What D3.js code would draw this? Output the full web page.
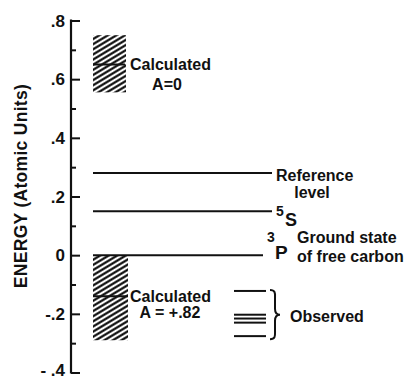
<!DOCTYPE html>
<html>
<head>
<meta charset="utf-8">
<script src="https://cdn.jsdelivr.net/npm/d3@7"></script>
<style>
  body { margin: 0; background: #fff; }
  svg text { font-family: "Liberation Sans", Arial, sans-serif; font-weight: bold; fill: #111; }
</style>
</head>
<body>
<svg id="chart" width="411" height="379"></svg>
<script>
// values (atomic units)
const tickValues = [0.8, 0.6, 0.4, 0.2, 0, -0.2, -0.4];
const tickLabels = [".8", ".6", ".4", ".2", "0", "-.2", "- .4"];
const minorTicks = [0.7, 0.5, 0.3, 0.1, -0.1, -0.3];

const levelNames = ["Reference level", "5S", "3P"];
const levelValues = [0.28, 0.15, 0];

const calcNames = ["A=0", "A = +.82"];
const calcTop = [0.75, 0];
const calcBottom = [0.555, -0.29];
const calcValues = [0.65, -0.14];

const observed = [-0.122, -0.203, -0.216, -0.230, -0.276];

let svg = d3.select("#chart");
let axisX = 71;

let y = d3.scaleLinear()
    .domain([-0.4, 0.8])
    .range([372.5, 20.5]);

// hatch pattern
let defs = svg.append("defs");
let pat = defs.append("pattern")
    .attr("id", "hatch")
    .attr("patternUnits", "userSpaceOnUse")
    .attr("width", 10)
    .attr("height", 4.4)
    .attr("patternTransform", "rotate(-31)");
pat.append("line")
    .attr("x1", 0).attr("x2", 10)
    .attr("y1", 2.2).attr("y2", 2.2)
    .attr("stroke", "#000")
    .attr("stroke-width", 2.1);

// axis: major and minor ticks
svg.append("g")
    .attr("transform", "translate(" + axisX + ",0)")
    .call(d3.axisRight(y).tickValues(tickValues).tickSize(9).tickFormat(""));
svg.append("g")
    .attr("transform", "translate(" + axisX + ",0)")
    .call(d3.axisRight(y).tickValues(minorTicks).tickSize(5).tickFormat(""));
svg.selectAll(".domain").remove();
svg.selectAll(".tick line").attr("stroke", "#111").attr("stroke-width", 2);

svg.append("line")
    .attr("x1", axisX).attr("x2", axisX)
    .attr("y1", y(0.8) - 1).attr("y2", y(-0.4) + 1)
    .attr("stroke", "#111").attr("stroke-width", 2.2);

// tick labels on the left
svg.append("g")
    .selectAll("text")
    .data(tickValues)
    .enter()
    .append("text")
    .attr("x", 65)
    .attr("y", (d) => Math.min(y(d) + 6, 376))
    .attr("text-anchor", "end")
    .style("font-size", "17px")
    .text((d, i) => tickLabels[i]);

// axis title
svg.append("text")
    .attr("transform", "translate(27,186) rotate(-90)")
    .attr("text-anchor", "middle")
    .style("font-size", "17.5px")
    .style("letter-spacing", "0.3px")
    .text("ENERGY  (Atomic Units)");

// calculated hatched boxes
let boxX = [93, 93];
let boxW = [33, 35];
svg.selectAll(".calcbox")
    .data(calcTop)
    .enter()
    .append("rect")
    .attr("class", "calcbox")
    .attr("x", (d, i) => boxX[i])
    .attr("width", (d, i) => boxW[i])
    .attr("y", (d) => y(d))
    .attr("height", (d, i) => y(calcBottom[i]) - y(d))
    .attr("fill", "url(#hatch)");

svg.selectAll(".calcline")
    .data(calcValues)
    .enter()
    .append("line")
    .attr("x1", 93)
    .attr("x2", (d, i) => [125, 128][i])
    .attr("y1", (d) => y(d))
    .attr("y2", (d) => y(d))
    .attr("stroke", "#111")
    .attr("stroke-width", 2);

svg.selectAll(".calclabel")
    .data(calcValues)
    .enter()
    .append("text")
    .attr("x", 130)
    .attr("y", (d) => y(d) + 5.5)
    .style("font-size", "16px")
    .text("Calculated");

svg.append("text")
    .attr("x", 167).attr("y", y(calcValues[0]) + 25)
    .attr("text-anchor", "middle")
    .style("font-size", "16px")
    .text(calcNames[0]);
svg.append("text")
    .attr("x", 170).attr("y", y(calcValues[1]) + 22)
    .attr("text-anchor", "middle")
    .style("font-size", "16px")
    .text(calcNames[1]);

// energy levels
let levelEnd = [272, 272, 263];
svg.selectAll(".level")
    .data(levelValues)
    .enter()
    .append("line")
    .attr("x1", 93)
    .attr("x2", (d, i) => levelEnd[i])
    .attr("y1", (d) => y(d))
    .attr("y2", (d) => y(d))
    .attr("stroke", "#111")
    .attr("stroke-width", 2);

// reference level label
svg.append("text")
    .attr("x", 276).attr("y", y(levelValues[0]) + 8)
    .style("font-size", "16px")
    .text("Reference");
svg.append("text")
    .attr("x", 312).attr("y", y(levelValues[0]) + 25)
    .attr("text-anchor", "middle")
    .style("font-size", "16px")
    .text("level");

// 5S
svg.append("text")
    .attr("x", 276).attr("y", y(levelValues[1]) + 5)
    .style("font-size", "14px")
    .text("5");
svg.append("text")
    .attr("x", 285).attr("y", y(levelValues[1]) + 15)
    .style("font-size", "18px")
    .text("S");

// 3P ground state
svg.append("text")
    .attr("x", 267).attr("y", y(levelValues[2]) - 13)
    .style("font-size", "14px")
    .text("3");
svg.append("text")
    .attr("x", 275).attr("y", y(levelValues[2]) + 4)
    .style("font-size", "19px")
    .text("P");
svg.append("text")
    .attr("x", 297).attr("y", y(levelValues[2]) - 12)
    .style("font-size", "16px")
    .text("Ground state");
svg.append("text")
    .attr("x", 297).attr("y", y(levelValues[2]) + 7)
    .style("font-size", "16px")
    .text("of free carbon");

// observed levels
svg.selectAll(".obs")
    .data(observed)
    .enter()
    .append("line")
    .attr("x1", 234)
    .attr("x2", 266)
    .attr("y1", (d) => y(d))
    .attr("y2", (d) => y(d))
    .attr("stroke", "#111")
    .attr("stroke-width", 2);

// brace
let bTop = y(d3.max(observed)) - 1;
let bBot = y(d3.min(observed)) + 3;
let bMid = y(observed[1]);
let bx = 270;
let brace = d3.path();
brace.moveTo(bx, bTop);
brace.bezierCurveTo(bx + 6, bTop, bx + 5, bTop + 4, bx + 5, bTop + 9);
brace.lineTo(bx + 5, bMid - 6);
brace.bezierCurveTo(bx + 5, bMid - 2, bx + 7, bMid, bx + 10, bMid);
brace.bezierCurveTo(bx + 7, bMid, bx + 5, bMid + 2, bx + 5, bMid + 6);
brace.lineTo(bx + 5, bBot - 9);
brace.bezierCurveTo(bx + 5, bBot - 4, bx + 6, bBot, bx, bBot);
svg.append("path")
    .attr("d", brace.toString())
    .attr("fill", "none")
    .attr("stroke", "#111")
    .attr("stroke-width", 2);

svg.append("text")
    .attr("x", 290).attr("y", bMid + 7)
    .style("font-size", "16px")
    .text("Observed");
</script>
</body>
</html>
